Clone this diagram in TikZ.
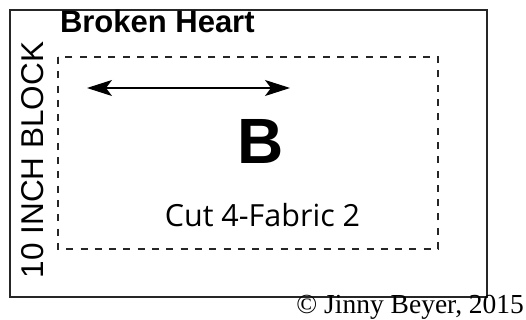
\documentclass[tikz,border=0pt]{standalone}
\usepackage{fontspec}
\setmainfont{Liberation Serif}
\newfontfamily\arialfont{Liberation Sans}
\newfontfamily\opensansfont{Open Sans}
\usetikzlibrary{arrows.meta}
\tikzset{
  txt/.style={inner sep=0pt, outer sep=0pt},
  outerbox/.style={draw=black!85, line width=2.8pt},
  seambox/.style={draw=black!85, line width=2.3pt, dash pattern=on 7pt off 7.3pt},
  grainline/.style={line width=1.1pt, {Stealth[length=25pt,width=16pt,inset=6pt]}-{Stealth[length=25pt,width=16pt,inset=6pt]}}
}
\begin{document}
\begin{tikzpicture}[x=1pt,y=-1pt]
\useasboundingbox (0,0) rectangle (526,320);
\fill[white] (0,0) rectangle (526,320);
\draw[outerbox] (10,10) rectangle (487,297);
\draw[seambox] (58,57) rectangle (438,249);
\coordinate (gl) at (87,88);
\coordinate (gr) at (290,88);
\draw[grainline] (gl) -- (gr);
\node[txt, anchor=base west] (title) at (60,33) {\arialfont\bfseries\fontsize{31}{31}\selectfont Broken Heart};
\node[txt, anchor=base, rotate=90] (block) at (43,160) {\arialfont\fontsize{31.5}{31.5}\selectfont 10 INCH BLOCK};
\node[txt, anchor=base] (piece) at (261,164) {\arialfont\bfseries\fontsize{64}{64}\selectfont B};
\node[txt, anchor=base] (cut) at (262.5,226) {\opensansfont\fontsize{30.5}{30.5}\selectfont Cut 4-Fabric 2};
\node[txt, anchor=base east] (copy) at (524,313) {\fontsize{27.5}{27.5}\selectfont © Jinny Beyer, 2015};
\end{tikzpicture}
\end{document}
